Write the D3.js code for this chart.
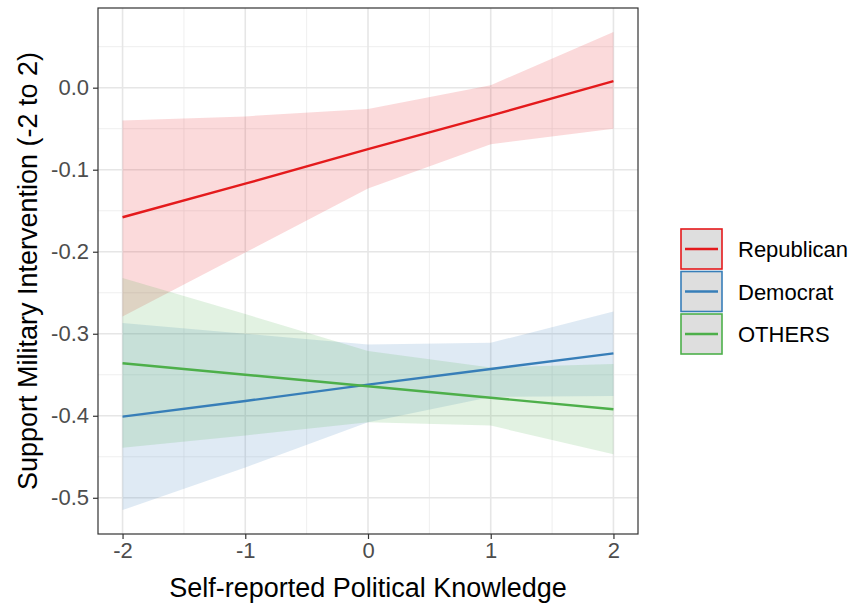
<!DOCTYPE html>
<html>
<head>
<meta charset="utf-8">
<script src="https://cdn.jsdelivr.net/npm/d3@7"></script>
<style>
  body { margin: 0; background: #fff; }
  text { font-family: "Liberation Sans", Arial, sans-serif; }
</style>
</head>
<body>
<svg width="850" height="603"></svg>
<script>
// data
const parties = ["Republican", "Democrat", "OTHERS"];
const knowledge = [-2, -1, 0, 1, 2];
const fitRep = [-0.158, -0.117, -0.075, -0.034, 0.008];
const fitDem = [-0.401, -0.382, -0.362, -0.343, -0.324];
const fitOth = [-0.336, -0.350, -0.364, -0.378, -0.392];
const upperRep = [-0.040, -0.035, -0.026, 0.003, 0.068];
const lowerRep = [-0.279, -0.201, -0.123, -0.069, -0.050];
const upperDem = [-0.287, -0.300, -0.313, -0.311, -0.273];
const lowerDem = [-0.515, -0.463, -0.408, -0.377, -0.376];
const upperOth = [-0.232, -0.276, -0.321, -0.341, -0.337];
const lowerOth = [-0.439, -0.424, -0.408, -0.412, -0.447];
const xTicks = [-2, -1, 0, 1, 2];
const yTicks = [0, -0.1, -0.2, -0.3, -0.4, -0.5];

const colors = { Republican: "#E41A1C", Democrat: "#377EB8", OTHERS: "#4DAF4A" };
const series = [
  { name: "Republican", fit: fitRep, lo: lowerRep, hi: upperRep },
  { name: "Democrat", fit: fitDem, lo: lowerDem, hi: upperDem },
  { name: "OTHERS", fit: fitOth, lo: lowerOth, hi: upperOth }
];

const svg = d3.select("svg");
const pLeft = 98, pRight = 638, pTop = 8, pBottom = 534;

// ggplot style 5% expansion
const xScale = d3.scaleLinear().domain([-2.2, 2.2]).range([pLeft, pRight]);
const allLo = d3.min(series, s => d3.min(s.lo)), allHi = d3.max(series, s => d3.max(s.hi));
const pad = (allHi - allLo) * 0.05;
const yScale = d3.scaleLinear().domain([allLo - pad, allHi + pad]).range([pBottom, pTop]);

// gridlines
const grid = svg.append("g");
const xMinor = [-1.5, -0.5, 0.5, 1.5];
const yMinor = d3.range(0.05, -0.55, -0.1).map(v => +v.toFixed(2)).filter(v => v <= allHi + pad && v >= allLo - pad);
grid.selectAll(".xminor").data(xMinor).join("line")
  .attr("x1", d => xScale(d)).attr("x2", d => xScale(d))
  .attr("y1", pTop).attr("y2", pBottom)
  .attr("stroke", "#ebebeb").attr("stroke-width", 0.8);
grid.selectAll(".yminor").data(yMinor).join("line")
  .attr("x1", pLeft).attr("x2", pRight)
  .attr("y1", d => yScale(d)).attr("y2", d => yScale(d))
  .attr("stroke", "#ebebeb").attr("stroke-width", 0.8);
grid.selectAll(".xmajor").data(xTicks).join("line")
  .attr("x1", d => xScale(d)).attr("x2", d => xScale(d))
  .attr("y1", pTop).attr("y2", pBottom)
  .attr("stroke", "#e6e6e6").attr("stroke-width", 1.6);
grid.selectAll(".ymajor").data(yTicks).join("line")
  .attr("x1", pLeft).attr("x2", pRight)
  .attr("y1", d => yScale(d)).attr("y2", d => yScale(d))
  .attr("stroke", "#e6e6e6").attr("stroke-width", 1.6);

// ribbons
const ribbon = d3.area()
  .x(d => xScale(d.x))
  .y0(d => yScale(d.lo))
  .y1(d => yScale(d.hi));
series.forEach(s => {
  const pts = knowledge.map((x, i) => ({ x: x, lo: s.lo[i], hi: s.hi[i] }));
  svg.append("path")
    .attr("d", ribbon(pts))
    .attr("fill", colors[s.name])
    .attr("fill-opacity", 0.16);
});

// fitted lines
const line = d3.line().x(d => xScale(d.x)).y(d => yScale(d.y));
series.forEach(s => {
  const pts = knowledge.map((x, i) => ({ x: x, y: s.fit[i] }));
  svg.append("path")
    .attr("d", line(pts))
    .attr("fill", "none")
    .attr("stroke", colors[s.name])
    .attr("stroke-width", 2.4);
});

// panel border
svg.append("rect")
  .attr("x", pLeft).attr("y", pTop)
  .attr("width", pRight - pLeft).attr("height", pBottom - pTop)
  .attr("fill", "none").attr("stroke", "#333").attr("stroke-width", 1.2);

// axes
const xAxis = d3.axisBottom(xScale).tickValues(xTicks)
  .tickSizeInner(5).tickSizeOuter(0).tickPadding(3);
const xG = svg.append("g").attr("transform", `translate(0,${pBottom})`).call(xAxis);
const yAxis = d3.axisLeft(yScale).tickValues(yTicks)
  .tickSizeInner(5).tickSizeOuter(0).tickPadding(4);
const yG = svg.append("g").attr("transform", `translate(${pLeft},0)`).call(yAxis);
[xG, yG].forEach(g => {
  g.select(".domain").remove();
  g.selectAll(".tick line").attr("stroke", "#333").attr("stroke-width", 1.2);
  g.selectAll(".tick text").attr("fill", "#4d4d4d").style("font-size", "22px");
});
// plain hyphen minus like the original
xG.selectAll(".tick text").text(d => String(d));
yG.selectAll(".tick text").text(d => d.toFixed(1));

// axis titles
svg.append("text")
  .attr("x", (pLeft + pRight) / 2).attr("y", 597)
  .attr("text-anchor", "middle")
  .style("font-size", "27px").attr("fill", "#000")
  .text("Self-reported Political Knowledge");
svg.append("text")
  .attr("transform", `translate(37,${(pTop + pBottom) / 2}) rotate(-90)`)
  .attr("text-anchor", "middle")
  .style("font-size", "27px").attr("fill", "#000")
  .text("Support Military Intervention (-2 to 2)");

// legend
const legend = svg.append("g").attr("transform", "translate(681,229)");
const keySize = 41;
parties.forEach((p, i) => {
  const g = legend.append("g").attr("transform", `translate(0,${i * (keySize + 1.5)})`);
  g.append("rect")
    .attr("x", 0).attr("y", 0).attr("width", keySize).attr("height", keySize - 1)
    .attr("fill", "#dedede").attr("stroke", colors[p]).attr("stroke-width", 1.6);
  g.append("line")
    .attr("x1", 4).attr("x2", keySize - 4)
    .attr("y1", (keySize - 1) / 2).attr("y2", (keySize - 1) / 2)
    .attr("stroke", colors[p]).attr("stroke-width", 2.4);
  g.append("text")
    .attr("x", keySize + 16).attr("y", (keySize - 1) / 2 + 8)
    .style("font-size", "22px").attr("fill", "#000")
    .text(p);
});
</script>
</body>
</html>
